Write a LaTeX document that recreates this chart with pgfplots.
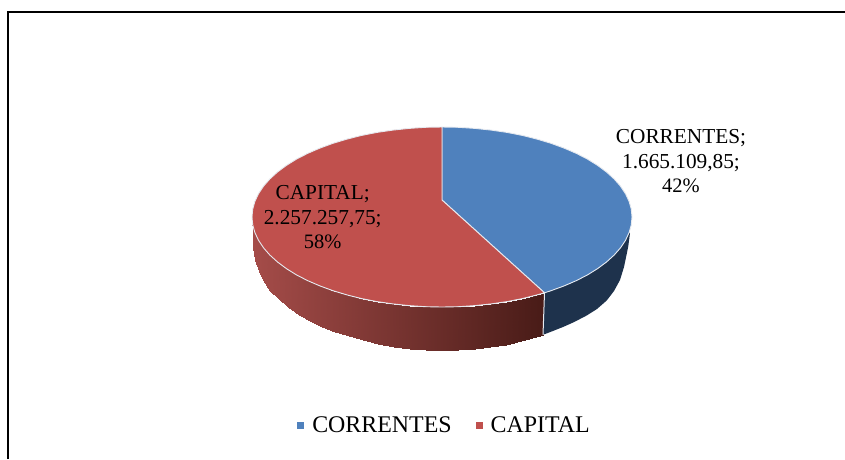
\documentclass[border=0pt]{standalone}
\usepackage{fontspec}
\setmainfont{Liberation Serif}
\usepackage{pgfplots}
\pgfplotsset{compat=1.18}
\definecolor{cblue}{HTML}{4F81BD}
\definecolor{cred}{HTML}{C0504D}
\definecolor{cbluedark}{HTML}{1E324C}
\definecolor{cedge}{HTML}{E6EAF0}
\begin{document}
\begin{tikzpicture}
\path[use as bounding box] (0,0) rectangle (845pt,459pt);
\begin{axis}[
  width=845pt,height=459pt,scale only axis,
  xmin=0,xmax=845,ymin=0,ymax=459,y dir=reverse,
  hide axis,
  colormap={side}{rgb255(0cm)=(165,76,73); rgb255(1cm)=(72,27,23)},
  point meta min=252, point meta max=545,
  legend columns=2,
  legend cell align=left,
  legend style={at={(axis cs:444.5,425)},anchor=center,draw=none,fill=none,inner sep=0pt,
    font=\fontsize{23.9}{26}\selectfont,
    /tikz/every even column/.append style={column sep=22pt}},
  legend image code/.code={\path[draw=none,fill=none] (0pt,0pt) -- (13pt,0pt);\fill[#1,draw=none] (0pt,-3.5pt) rectangle (7pt,3.5pt);},
]
% side of the capital slice
\addplot[surf,shader=interp,mesh/cols=2,point meta=x,forget plot] table {
x y
252 217
252.5 235
252.7 224.8
253.3 247
254.9 232.6
255 260
258.5 240.3
258.5 271
263.5 247.8
262.5 280
269.8 255
270 291
277.5 262
278.5 299
286.4 268.6
288 307
296.5 274.9
299 315
307.6 280.6
310 321
319.9 285.9
322 327
333 290.7
335 332
347 294.9
348.5 336.3
361.7 298.6
363 340.3
377 301.6
378 343.8
392.8 303.9
393.6 346.5
409 305.6
409.5 348.6
425.4 306.7
425.7 349.6
442 307
442 350
458.6 306.7
458.3 349.6
475 305.6
474.5 348.6
491.2 303.9
490.4 346.9
507 301.6
506 344.5
522.3 298.6
521 341.4
537 294.9
535.5 337.2
544.5 292.8
543 334.8
};
% side of the correntes slice
\addplot[fill=cbluedark,draw=none,forget plot] coordinates {
(544.5,292.8)(551,290.7)(564.1,285.9)(576.4,280.6)(587.5,274.9)(597.6,268.6)(606.5,262)(614.2,255)(620.5,247.8)(625.5,240.3)(629.1,232.6)
(630,233)(628.3,246)(626.7,254)(624,267)(620,280)(614,291)(606.7,300.5)(597,309)(586.7,315.5)(574.2,322)(563,327)(549.3,332.4)(543,334.8)
} -- cycle;
\addplot[draw=cedge,line width=1pt,forget plot] coordinates {(544.5,292.8)(543,334.8)};
% top faces
\addplot[fill=cblue,draw=cedge,line width=0.9pt] coordinates {
(442,200)(442,127)(458.6,127.3)(475,128.4)(491.2,130.1)(507,132.4)(522.3,135.4)(537,139.1)(551,143.3)(564.1,148.1)(576.4,153.4)(587.5,159.1)(597.6,165.4)(606.5,172)(614.2,179)(620.5,186.2)(625.5,193.7)(629.1,201.4)(631.3,209.2)(632,217)
(631.3,224.8)(629.1,232.6)(625.5,240.3)(620.5,247.8)(614.2,255)(606.5,262)(597.6,268.6)(587.5,274.9)(576.4,280.6)(564.1,285.9)(551,290.7)(544.5,292.8)
} -- cycle;
\addlegendentry{CORRENTES}
\addplot[fill=cred,draw=cedge,line width=0.9pt] coordinates {
(442,200)(544.5,292.8)(537,294.9)(522.3,298.6)(507,301.6)(491.2,303.9)(475,305.6)(458.6,306.7)(442,307)(425.4,306.7)(409,305.6)(392.8,303.9)(377,301.6)(361.7,298.6)(347,294.9)(333,290.7)(319.9,285.9)(307.6,280.6)(296.5,274.9)(286.4,268.6)(277.5,262)(269.8,255)(263.5,247.8)(258.5,240.3)(254.9,232.6)(252.7,224.8)(252,217)
(252.7,209.2)(254.9,201.4)(258.5,193.7)(263.5,186.2)(269.8,179)(277.5,172)(286.4,165.4)(296.5,159.1)(307.6,153.4)(319.9,148.1)(333,143.3)(347,139.1)(361.7,135.4)(377,132.4)(392.8,130.1)(409,128.4)(425.4,127.3)(442,127)
} -- cycle;
\addlegendentry{CAPITAL}
% frame
\addplot[black,line width=1.7pt,forget plot] coordinates {(8.2,459)(8.2,11.7)(845,11.7)};
% labels
\node[anchor=base,inner sep=0pt] at (axis cs:681,143) {\fontsize{21.3}{25}\selectfont CORRENTES;};
\node[anchor=base,inner sep=0pt] at (axis cs:681,168) {\fontsize{21.3}{25}\selectfont 1.665.109,85;};
\node[anchor=base,inner sep=0pt] at (axis cs:681,192.7) {\fontsize{20.5}{25}\selectfont 42\%};
\node[anchor=base,inner sep=0pt] at (axis cs:322.7,199) {\fontsize{21.3}{25}\selectfont CAPITAL;};
\node[anchor=base,inner sep=0pt] at (axis cs:322.7,224) {\fontsize{21.3}{25}\selectfont 2.257.257,75;};
\node[anchor=base,inner sep=0pt] at (axis cs:322.7,248) {\fontsize{20.5}{25}\selectfont 58\%};
\end{axis}
\end{tikzpicture}
\end{document}
